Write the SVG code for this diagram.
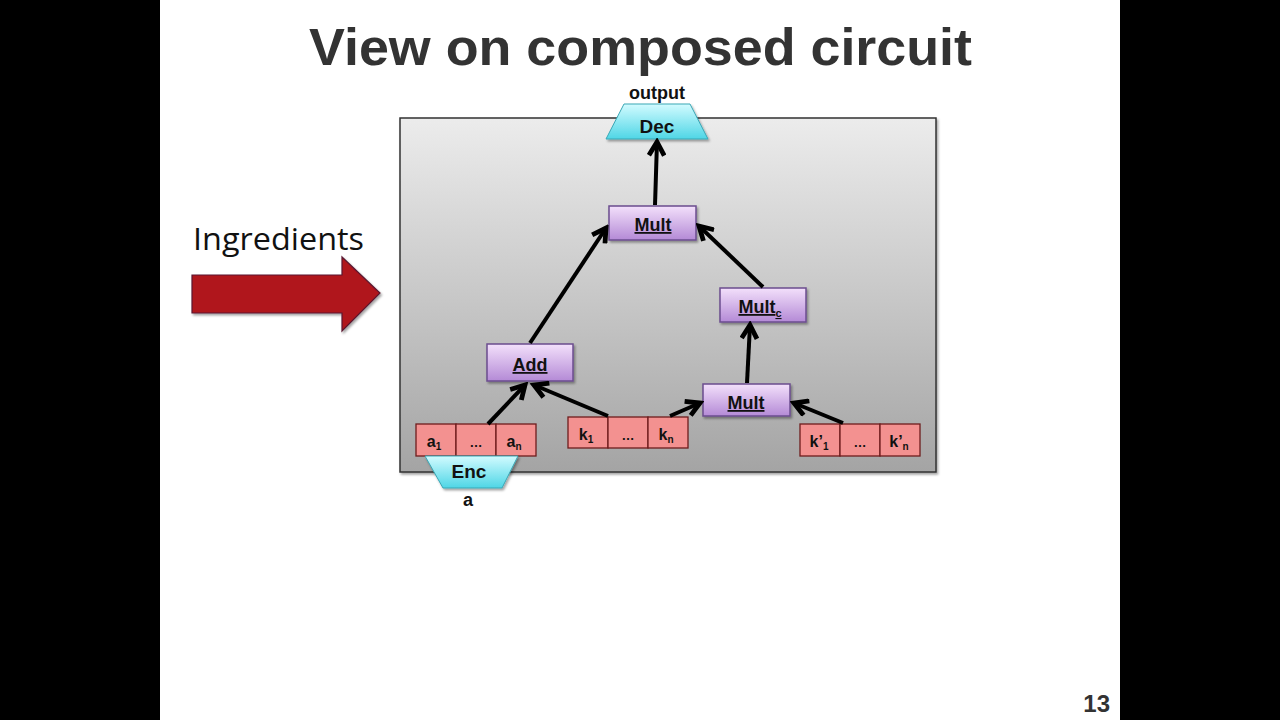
<svg xmlns="http://www.w3.org/2000/svg" width="1280" height="720" viewBox="0 0 1280 720">
<defs>
<linearGradient id="bg" x1="0" y1="0" x2="0" y2="1"><stop offset="0" stop-color="#ececec"/><stop offset="1" stop-color="#a4a4a4"/></linearGradient>
<linearGradient id="purp" x1="0" y1="0" x2="0" y2="1"><stop offset="0" stop-color="#f3e0fb"/><stop offset="1" stop-color="#b48ad6"/></linearGradient>
<linearGradient id="cyan" x1="0" y1="0" x2="0" y2="1"><stop offset="0" stop-color="#d2fbff"/><stop offset="1" stop-color="#4fd6e6"/></linearGradient>
<filter id="sh" x="-10%" y="-10%" width="130%" height="140%"><feDropShadow dx="1.5" dy="2" stdDeviation="1.2" flood-color="#000" flood-opacity="0.35"/></filter>
<marker id="ah" viewBox="0 0 10 10" refX="8" refY="5" markerWidth="4.8" markerHeight="4.8" orient="auto" markerUnits="strokeWidth">
<path d="M1,1 L8,5 L1,9" fill="none" stroke="#000" stroke-width="2.5" stroke-linejoin="miter"/>
</marker>
</defs>
<style>
.lbl{font-family:"Liberation Sans",Arial,sans-serif;font-weight:bold;fill:#111;text-anchor:middle}
.box{fill:url(#purp);stroke:#6b4c8f;stroke-width:1.5;filter:url(#sh)}
.cell{fill:#f39190;stroke:#6e1c1c;stroke-width:1.3}
.trap{fill:url(#cyan);stroke:#3aa7b5;stroke-width:1;filter:url(#sh)}
.conn{stroke:#000;stroke-width:4;fill:none;marker-end:url(#ah)}
</style>
<rect x="0" y="0" width="1280" height="720" fill="#000"/>
<rect x="160" y="0" width="960" height="720" fill="#fff"/>
<text x="309" y="65" textLength="663" lengthAdjust="spacingAndGlyphs" font-family="Liberation Sans,Arial,sans-serif" font-weight="bold" font-size="52" fill="#333">View on composed circuit</text>
<text x="193" y="250" textLength="171" lengthAdjust="spacingAndGlyphs" font-family="Open Sans,Liberation Sans,sans-serif" font-size="31" fill="#111">Ingredients</text>
<g id="ingredients-arrow">
<path d="M192,275 L342,275 L342,257 L380,293 L342,331 L342,313 L192,313 Z" fill="#b0121c" stroke="#5a1a30" stroke-width="1.2" filter="url(#sh)"/>
</g>
<g id="circuit-box"><rect x="400" y="118" width="536" height="354" fill="url(#bg)" stroke="#333" stroke-width="1.5" filter="url(#sh)"/></g>
<g id="dec"><path d="M624,104 L690,104 L708,139 L606,139 Z" class="trap"/><text x="657" y="133" class="lbl" font-size="19">Dec</text></g>
<text x="657" y="99" class="lbl" font-size="18">output</text>
<g id="mult-top"><rect x="609" y="206" width="87" height="34" class="box"/><text x="653" y="231" class="lbl" font-size="18" text-decoration="underline">Mult</text></g>
<g id="mult-c"><rect x="720" y="288" width="86" height="34" class="box"/><text x="760" y="313" class="lbl" font-size="18" text-decoration="underline">Mult<tspan font-size="11" dy="4">c</tspan></text></g>
<g id="add"><rect x="487" y="344" width="86" height="37" class="box"/><text x="530" y="371" class="lbl" font-size="18" text-decoration="underline">Add</text></g>
<g id="mult-bottom"><rect x="703" y="384" width="87" height="32" class="box"/><text x="746" y="409" class="lbl" font-size="18" text-decoration="underline">Mult</text></g>
<g id="a-cells">
<rect x="416" y="424" width="40" height="32" class="cell"/><rect x="456" y="424" width="40" height="32" class="cell"/><rect x="496" y="424" width="40" height="32" class="cell"/>
<text x="434" y="447" class="lbl" font-size="16">a<tspan font-size="10" dy="3">1</tspan></text>
<text x="476" y="447" class="lbl" font-size="13">…</text>
<text x="514" y="447" class="lbl" font-size="16">a<tspan font-size="10" dy="3">n</tspan></text>
</g>
<g id="enc"><path d="M425,456 L518,456 L502,488 L443,488 Z" class="trap"/><text x="469" y="478" class="lbl" font-size="19">Enc</text></g>
<text x="468" y="506" class="lbl" font-size="18">a</text>
<g id="k-cells">
<rect x="568" y="417" width="40" height="31" class="cell"/><rect x="608" y="417" width="40" height="31" class="cell"/><rect x="648" y="417" width="40" height="31" class="cell"/>
<text x="586" y="440" class="lbl" font-size="16">k<tspan font-size="10" dy="3">1</tspan></text>
<text x="628" y="440" class="lbl" font-size="13">…</text>
<text x="666" y="440" class="lbl" font-size="16">k<tspan font-size="10" dy="3">n</tspan></text>
</g>
<g id="kp-cells">
<rect x="800" y="424" width="40" height="32" class="cell"/><rect x="840" y="424" width="40" height="32" class="cell"/><rect x="880" y="424" width="40" height="32" class="cell"/>
<text x="819" y="447" class="lbl" font-size="16">k’<tspan font-size="10" dy="3">1</tspan></text>
<text x="860" y="447" class="lbl" font-size="13">…</text>
<text x="899" y="447" class="lbl" font-size="16">k’<tspan font-size="10" dy="3">n</tspan></text>
</g>
<g id="connectors">
<line x1="655" y1="205" x2="657" y2="142" class="conn"/>
<line x1="530" y1="343" x2="606" y2="228" class="conn"/>
<line x1="763" y1="287" x2="699" y2="226" class="conn"/>
<line x1="488" y1="424" x2="525" y2="385" class="conn"/>
<line x1="608" y1="416" x2="534" y2="385" class="conn"/>
<line x1="670" y1="416" x2="700" y2="403" class="conn"/>
<line x1="843" y1="423" x2="794" y2="403" class="conn"/>
<line x1="747" y1="383" x2="750" y2="325" class="conn"/>
</g>
<text x="1110" y="712" font-family="Liberation Sans,Arial,sans-serif" font-weight="bold" font-size="24" fill="#333" text-anchor="end">13</text>
</svg>
